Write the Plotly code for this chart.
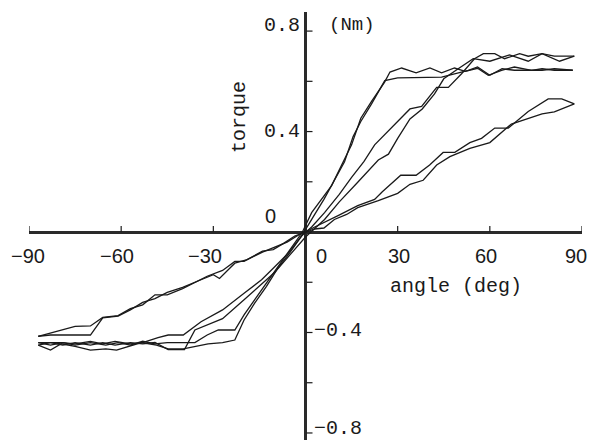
import plotly.graph_objects as go

# ---- data (angle in deg, torque in Nm) ----
# steep loop
a_hi_x = [-87, -83, -79, -75, -70, -65, -61, -57, -53, -49, -45, -40, -36, -32, -28.4, -23, -20, -16, -12, -8, -4, -1,
          2, 8.5, 15, 18, 21.5, 25.7, 27.5, 31.3, 36, 40.5, 44.3, 48.5, 52, 56, 59.5, 63.8, 68, 73.6, 77, 81, 87]
a_hi_y = [-0.45, -0.44, -0.44, -0.45, -0.44, -0.45, -0.44, -0.45, -0.435, -0.445, -0.44, -0.44, -0.44, -0.41, -0.39, -0.39, -0.33, -0.26, -0.19, -0.12, -0.05, 0.0,
          0.077, 0.185, 0.347, 0.453, 0.52, 0.596, 0.637, 0.653, 0.634, 0.653, 0.634, 0.653, 0.64, 0.652, 0.624, 0.644, 0.657, 0.644, 0.644, 0.65, 0.644]
a_lo_x = [-87, -83, -79.5, -75, -70, -65, -61.5, -57, -53.4, -48.5, -44.7, -39.8, -36, -31.7, -27, -23, -20, -16.6, -12.7, -9, -5.2, -1.3,
          3, 6, 12.7, 15.5, 18, 21.5, 25.8, 30, 35, 40, 44.3, 48.5, 53, 56, 60, 64, 68, 73.6, 77, 81, 87]
a_lo_y = [-0.45, -0.47, -0.445, -0.455, -0.47, -0.465, -0.47, -0.455, -0.44, -0.45, -0.465, -0.465, -0.457, -0.445, -0.44, -0.43, -0.35, -0.284, -0.216, -0.144, -0.084, -0.016,
          0.07, 0.13, 0.28, 0.38, 0.44, 0.51, 0.603, 0.614, 0.615, 0.616, 0.617, 0.63, 0.644, 0.657, 0.624, 0.65, 0.644, 0.644, 0.65, 0.644, 0.644]

# medium loop
b_hi_x = [-87, -83, -79, -75, -70, -66, -62, -57, -53, -48, -44.7, -39.8, -34, -27, -20, -14.3, -10.5, -5.6, -1.3,
          2, 6.2, 11, 15, 19, 22.5, 26, 30, 34, 37.8, 42.7, 46.5, 50.8, 55, 57.9, 61.6, 64.8, 69.7, 72.5, 77, 82.7, 87.5]
b_hi_y = [-0.44, -0.45, -0.44, -0.445, -0.435, -0.445, -0.435, -0.445, -0.44, -0.42, -0.41, -0.41, -0.357, -0.31, -0.244, -0.19, -0.144, -0.084, -0.016,
          0.02, 0.077, 0.15, 0.218, 0.28, 0.347, 0.39, 0.44, 0.49, 0.5, 0.576, 0.576, 0.63, 0.69, 0.71, 0.71, 0.69, 0.71, 0.70, 0.71, 0.68, 0.70]
b_lo_x = [-87, -83, -79, -75, -70, -66, -62, -57, -53, -49, -44.7, -39.4, -36, -32, -27, -20, -14, -10, -5, 0,
          6.2, 11, 17, 23.7, 27, 30, 34, 38, 42, 45, 49.7, 54.6, 60, 66.4, 72.5, 77, 81, 87.5]
b_lo_y = [-0.44, -0.44, -0.45, -0.44, -0.45, -0.44, -0.45, -0.44, -0.445, -0.44, -0.468, -0.468, -0.39, -0.37, -0.345, -0.27, -0.205, -0.16, -0.09, -0.02,
          0.05, 0.12, 0.198, 0.287, 0.31, 0.373, 0.45, 0.49, 0.55, 0.61, 0.65, 0.69, 0.68, 0.705, 0.68, 0.71, 0.70, 0.70]

# shallow loop
c_hi_x = [-87, -75, -70, -66, -61, -57, -53, -49, -45, -40, -32, -27, -23, -20, -14, -10.5, -7, -3.5, 0,
          3, 10.6, 17, 22.5, 25, 31, 36, 40.4, 44.8, 48.6, 53.5, 57.3, 61.6, 66, 72.5, 79, 83.4, 87.5]
c_hi_y = [-0.415, -0.376, -0.374, -0.34, -0.333, -0.305, -0.29, -0.25, -0.25, -0.225, -0.176, -0.153, -0.117, -0.117, -0.076, -0.07, -0.044, -0.016, 0.0,
          0.02, 0.065, 0.105, 0.13, 0.16, 0.226, 0.226, 0.267, 0.317, 0.317, 0.356, 0.373, 0.414, 0.414, 0.48, 0.53, 0.53, 0.51]
c_lo_x = [-87, -83, -70, -66, -61, -57, -53, -49, -45, -40, -34, -30, -28, -23, -19, -14, -10, -6, -2,
          3, 6, 9.4, 13.4, 17, 23.7, 30, 34, 38.3, 42.7, 47, 53.5, 60, 67, 73, 77, 81, 87.5]
c_lo_y = [-0.415, -0.41, -0.41, -0.342, -0.335, -0.31, -0.28, -0.265, -0.24, -0.22, -0.19, -0.17, -0.185, -0.124, -0.11, -0.08, -0.06, -0.04, -0.01,
          0.012, 0.016, 0.05, 0.07, 0.097, 0.125, 0.154, 0.19, 0.206, 0.267, 0.3, 0.333, 0.356, 0.43, 0.455, 0.47, 0.478, 0.51]

branches = [(a_hi_x, a_hi_y), (a_lo_x, a_lo_y), (b_hi_x, b_hi_y),
            (b_lo_x, b_lo_y), (c_hi_x, c_hi_y), (c_lo_x, c_lo_y)]

# ---- axis ticks / labels ----
x_tick_vals = [-90, -60, -30, 30, 60, 90]
x_tick_text = ["\u221290", "\u221260", "\u221230", "30", "60", "90"]
x_tick_shift = [-1, -4, -8, 1, -4, -6]
y_tick_vals = [0.8, 0.6, 0.4, 0.2, -0.2, -0.4, -0.6, -0.8]
y_label_vals = [0.8, 0.4, -0.4, -0.8]
y_label_text = ["0.8", "0.4", "\u22120.4", "\u22120.8"]
y_label_yshift = [6, 0, 2, 4]

INK = "#1a1a1a"
MONO = "Liberation Mono, Courier New, monospace"
SANS = "Liberation Sans, Arial, sans-serif"

fig = go.Figure()
for bx, by in branches:
    fig.add_trace(go.Scatter(x=bx, y=by, mode="lines",
                             line=dict(color=INK, width=1.3),
                             showlegend=False, hoverinfo="skip"))

shapes = []
for v in x_tick_vals:
    shapes.append(dict(type="line", xref="x", yref="y", ysizemode="pixel", yanchor=0,
                       x0=v, x1=v, y0=0, y1=6, line=dict(color=INK, width=1.2)))
for v in y_tick_vals:
    shapes.append(dict(type="line", xref="x", yref="y", xsizemode="pixel", xanchor=0,
                       x0=1, x1=7, y0=v, y1=v, line=dict(color=INK, width=1.2)))

ann = []
for v, t, s in zip(x_tick_vals, x_tick_text, x_tick_shift):
    ann.append(dict(x=v, y=0, xref="x", yref="y", text=t, showarrow=False,
                    xanchor="center", yanchor="middle", xshift=s, yshift=-24,
                    font=dict(family=SANS, size=20, color=INK)))
# origin labels
ann.append(dict(x=0, y=0, xref="x", yref="y", text="0", showarrow=False,
                xanchor="left", yanchor="middle", xshift=8, yshift=-24,
                font=dict(family=SANS, size=20, color=INK)))
ann.append(dict(x=0, y=0, xref="x", yref="y", text="0", showarrow=False,
                xanchor="center", yanchor="middle", xshift=-35, yshift=16,
                font=dict(family=SANS, size=20, color=INK)))
for v, t, ys in zip(y_label_vals, y_label_text, y_label_yshift):
    if v > 0:
        ann.append(dict(x=0, y=v, xref="x", yref="y", text=t, showarrow=False,
                        xanchor="right", yanchor="middle", xshift=-4, yshift=ys,
                        font=dict(family=MONO, size=20, color=INK)))
    else:
        ann.append(dict(x=0, y=v, xref="x", yref="y", text=t, showarrow=False,
                        xanchor="left", yanchor="middle", xshift=6, yshift=ys,
                        font=dict(family=MONO, size=20, color=INK)))

ann.append(dict(x=-21.3, y=0.458, xref="x", yref="y", text="torque", showarrow=False,
                textangle=-90, xanchor="center", yanchor="middle",
                font=dict(family=MONO, size=20, color=INK)))
ann.append(dict(x=15, y=0.824, xref="x", yref="y", text="(Nm)", showarrow=False,
                xanchor="center", yanchor="middle",
                font=dict(family=MONO, size=19, color=INK)))
ann.append(dict(x=26.9, y=-0.215, xref="x", yref="y", text="angle (deg)", showarrow=False,
                xanchor="left", yanchor="middle",
                font=dict(family=MONO, size=20, color=INK)))

# the page body adds an 8 px margin, so the figure is 8 px smaller on each side
fig.update_layout(
    width=589, height=432, autosize=False,
    margin=dict(l=21, r=15, t=4, b=0),
    paper_bgcolor="white", plot_bgcolor="white",
    shapes=shapes, annotations=ann,
    xaxis=dict(range=[-90, 90], showgrid=False, zeroline=True, zerolinecolor="#2a2a2a",
               zerolinewidth=3, showticklabels=False, ticks="", showline=False, fixedrange=True),
    yaxis=dict(range=[-0.828, 0.876], showgrid=False, zeroline=True, zerolinecolor="#2a2a2a",
               zerolinewidth=3, showticklabels=False, ticks="", showline=False, fixedrange=True),
)

fig.write_html("out.html")
